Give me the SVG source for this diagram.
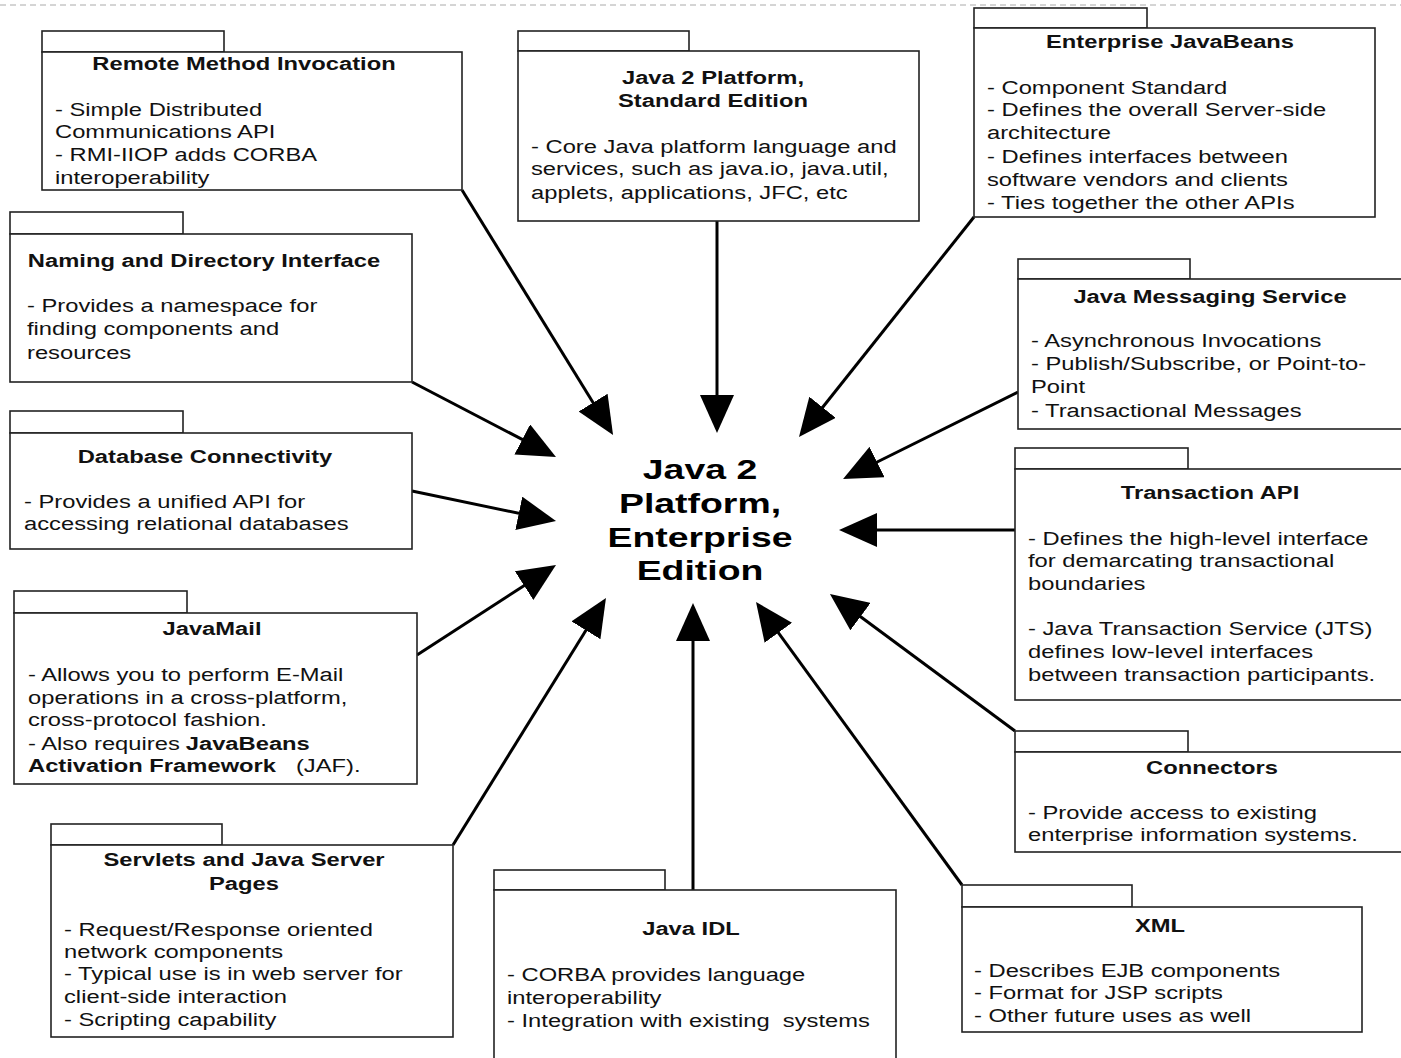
<svg xmlns="http://www.w3.org/2000/svg" width="1401" height="1058" viewBox="0 0 1401 1058">
<style>
  .box { fill: #fff; stroke: #222; stroke-width: 1.6; }
  .t { font-family: "Liberation Sans", Arial, sans-serif; font-size: 18px; font-weight: bold; fill: #111; text-anchor: middle; }
  .b { font-family: "Liberation Sans", Arial, sans-serif; font-size: 18px; fill: #111; }
  .bb { font-weight: bold; }
  .c { font-family: "Liberation Sans", Arial, sans-serif; font-size: 28px; font-weight: bold; fill: #000; text-anchor: middle; }
  .arr { stroke: #000; stroke-width: 3; fill: none; marker-end: url(#ah); }
</style>
<defs>
  <marker id="ah" markerUnits="userSpaceOnUse" markerWidth="38" markerHeight="34" viewBox="0 0 38 34" refX="28" refY="17" orient="auto">
    <path d="M0,0 L38,17 L0,34 z" fill="#000"/>
  </marker>
</defs>
<rect width="1401" height="1058" fill="#fff"/>
<line x1="0" y1="5" x2="1401" y2="5" stroke="#aaa" stroke-width="1" stroke-dasharray="6 4"/>

<g id="connectors">
  <line class="arr" x1="462" y1="190" x2="607.8" y2="426.5"/>
  <line class="arr" x1="717" y1="221" x2="717" y2="423"/>
  <line class="arr" x1="974" y1="217" x2="805.2" y2="429.2"/>
  <line class="arr" x1="412" y1="382" x2="547.1" y2="452.4"/>
  <line class="arr" x1="1018" y1="392" x2="852" y2="474.5"/>
  <line class="arr" x1="412" y1="491" x2="546.2" y2="519"/>
  <line class="arr" x1="1015" y1="530" x2="849" y2="530"/>
  <line class="arr" x1="417" y1="655" x2="547.6" y2="570.4"/>
  <line class="arr" x1="1015" y1="731" x2="838" y2="600"/>
  <line class="arr" x1="453" y1="845" x2="600.7" y2="606.5"/>
  <line class="arr" x1="693" y1="890" x2="693" y2="613"/>
  <line class="arr" x1="962" y1="885" x2="761.9" y2="610.1"/>
</g>

<g id="center">
  <text class="c" transform="matrix(1.336 0 0 1 700 479)">Java 2</text>
  <text class="c" transform="matrix(1.336 0 0 1 700 513)">Platform,</text>
  <text class="c" transform="matrix(1.336 0 0 1 700 547)">Enterprise</text>
  <text class="c" transform="matrix(1.336 0 0 1 700 580)">Edition</text>
</g>

<g id="rmi">
  <rect class="box" x="42" y="31" width="182" height="21"/>
  <rect class="box" x="42" y="52" width="420" height="138"/>
  <text class="t" transform="matrix(1.32 0 0 1 244 70)">Remote Method Invocation</text>
  <text class="b" transform="matrix(1.32 0 0 1 55 116)">- Simple Distributed</text>
  <text class="b" transform="matrix(1.32 0 0 1 55 138)">Communications API</text>
  <text class="b" transform="matrix(1.32 0 0 1 55 161)">- RMI-IIOP adds CORBA</text>
  <text class="b" transform="matrix(1.32 0 0 1 55 184)">interoperability</text>
</g>

<g id="j2se">
  <rect class="box" x="518" y="31" width="171" height="20"/>
  <rect class="box" x="518" y="51" width="401" height="170"/>
  <text class="t" transform="matrix(1.32 0 0 1 713 84)">Java 2 Platform,</text>
  <text class="t" transform="matrix(1.32 0 0 1 713 107)">Standard Edition</text>
  <text class="b" transform="matrix(1.32 0 0 1 531 153)">- Core Java platform language and</text>
  <text class="b" transform="matrix(1.32 0 0 1 531 175)">services, such as java.io, java.util,</text>
  <text class="b" transform="matrix(1.32 0 0 1 531 199)">applets, applications, JFC, etc</text>
</g>

<g id="ejb">
  <rect class="box" x="974" y="8" width="173" height="20"/>
  <rect class="box" x="974" y="28" width="401" height="189"/>
  <text class="t" transform="matrix(1.32 0 0 1 1170 48)">Enterprise JavaBeans</text>
  <text class="b" transform="matrix(1.32 0 0 1 987 94)">- Component Standard</text>
  <text class="b" transform="matrix(1.32 0 0 1 987 116)">- Defines the overall Server-side</text>
  <text class="b" transform="matrix(1.32 0 0 1 987 139)">architecture</text>
  <text class="b" transform="matrix(1.32 0 0 1 987 163)">- Defines interfaces between</text>
  <text class="b" transform="matrix(1.32 0 0 1 987 186)">software vendors and clients</text>
  <text class="b" transform="matrix(1.32 0 0 1 987 209)">- Ties together the other APIs</text>
</g>

<g id="jndi">
  <rect class="box" x="10" y="212" width="173" height="22"/>
  <rect class="box" x="10" y="234" width="402" height="148"/>
  <text class="t" transform="matrix(1.32 0 0 1 204 267)">Naming and Directory Interface</text>
  <text class="b" transform="matrix(1.32 0 0 1 27 312)">- Provides a namespace for</text>
  <text class="b" transform="matrix(1.32 0 0 1 27 335)">finding components and</text>
  <text class="b" transform="matrix(1.32 0 0 1 27 359)">resources</text>
</g>

<g id="jms">
  <rect class="box" x="1018" y="259" width="172" height="20"/>
  <rect class="box" x="1018" y="279" width="390" height="150"/>
  <text class="t" transform="matrix(1.32 0 0 1 1210 303)">Java Messaging Service</text>
  <text class="b" transform="matrix(1.32 0 0 1 1031 347)">- Asynchronous Invocations</text>
  <text class="b" transform="matrix(1.32 0 0 1 1031 370)">- Publish/Subscribe, or Point-to-</text>
  <text class="b" transform="matrix(1.32 0 0 1 1031 393)">Point</text>
  <text class="b" transform="matrix(1.32 0 0 1 1031 417)">- Transactional Messages</text>
</g>

<g id="jdbc">
  <rect class="box" x="10" y="411" width="173" height="22"/>
  <rect class="box" x="10" y="433" width="402" height="116"/>
  <text class="t" transform="matrix(1.32 0 0 1 205 463)">Database Connectivity</text>
  <text class="b" transform="matrix(1.32 0 0 1 24 508)">- Provides a unified API for</text>
  <text class="b" transform="matrix(1.32 0 0 1 24 530)">accessing relational databases</text>
</g>

<g id="jta">
  <rect class="box" x="1015" y="448" width="173" height="21"/>
  <rect class="box" x="1015" y="469" width="393" height="231"/>
  <text class="t" transform="matrix(1.32 0 0 1 1210 499)">Transaction API</text>
  <text class="b" transform="matrix(1.32 0 0 1 1028 545)">- Defines the high-level interface</text>
  <text class="b" transform="matrix(1.32 0 0 1 1028 567)">for demarcating transactional</text>
  <text class="b" transform="matrix(1.32 0 0 1 1028 590)">boundaries</text>
  <text class="b" transform="matrix(1.32 0 0 1 1028 635)">- Java Transaction Service (JTS)</text>
  <text class="b" transform="matrix(1.32 0 0 1 1028 658)">defines low-level interfaces</text>
  <text class="b" transform="matrix(1.32 0 0 1 1028 681)">between transaction participants.</text>
</g>

<g id="javamail">
  <rect class="box" x="14" y="591" width="173" height="22"/>
  <rect class="box" x="14" y="613" width="403" height="171"/>
  <text class="t" transform="matrix(1.32 0 0 1 212 635)">JavaMail</text>
  <text class="b" transform="matrix(1.32 0 0 1 28 681)">- Allows you to perform E-Mail</text>
  <text class="b" transform="matrix(1.32 0 0 1 28 704)">operations in a cross-platform,</text>
  <text class="b" transform="matrix(1.32 0 0 1 28 726)">cross-protocol fashion.</text>
  <text class="b" transform="matrix(1.32 0 0 1 28 750)">- Also requires <tspan class="bb" x="119.5">JavaBeans</tspan></text>
  <text class="b" transform="matrix(1.32 0 0 1 28 772)"><tspan class="bb">Activation Framework</tspan><tspan x="203">(JAF).</tspan></text>
</g>

<g id="jca">
  <rect class="box" x="1015" y="731" width="173" height="21"/>
  <rect class="box" x="1015" y="752" width="393" height="100"/>
  <text class="t" transform="matrix(1.32 0 0 1 1212 774)">Connectors</text>
  <text class="b" transform="matrix(1.32 0 0 1 1028 819)">- Provide access to existing</text>
  <text class="b" transform="matrix(1.32 0 0 1 1028 841)">enterprise information systems.</text>
</g>

<g id="servlets">
  <rect class="box" x="51" y="824" width="171" height="21"/>
  <rect class="box" x="51" y="845" width="402" height="192"/>
  <text class="t" transform="matrix(1.32 0 0 1 244 866)">Servlets and Java Server</text>
  <text class="t" transform="matrix(1.32 0 0 1 244 890)">Pages</text>
  <text class="b" transform="matrix(1.32 0 0 1 64 936)">- Request/Response oriented</text>
  <text class="b" transform="matrix(1.32 0 0 1 64 958)">network components</text>
  <text class="b" transform="matrix(1.32 0 0 1 64 980)">- Typical use is in web server for</text>
  <text class="b" transform="matrix(1.32 0 0 1 64 1003)">client-side interaction</text>
  <text class="b" transform="matrix(1.32 0 0 1 64 1026)">- Scripting capability</text>
</g>

<g id="javaidl">
  <rect class="box" x="494" y="870" width="171" height="20"/>
  <rect class="box" x="494" y="890" width="402" height="180"/>
  <text class="t" transform="matrix(1.32 0 0 1 691 935)">Java IDL</text>
  <text class="b" transform="matrix(1.32 0 0 1 507 981)">- CORBA provides language</text>
  <text class="b" transform="matrix(1.32 0 0 1 507 1004)">interoperability</text>
  <text class="b" transform="matrix(1.32 0 0 1 507 1027)" xml:space="preserve">- Integration with existing  systems</text>
</g>

<g id="xml">
  <rect class="box" x="962" y="885" width="170" height="22"/>
  <rect class="box" x="962" y="907" width="400" height="125"/>
  <text class="t" transform="matrix(1.32 0 0 1 1160 932)">XML</text>
  <text class="b" transform="matrix(1.32 0 0 1 974 977)">- Describes EJB components</text>
  <text class="b" transform="matrix(1.32 0 0 1 974 999)">- Format for JSP scripts</text>
  <text class="b" transform="matrix(1.32 0 0 1 974 1022)">- Other future uses as well</text>
</g>
</svg>
